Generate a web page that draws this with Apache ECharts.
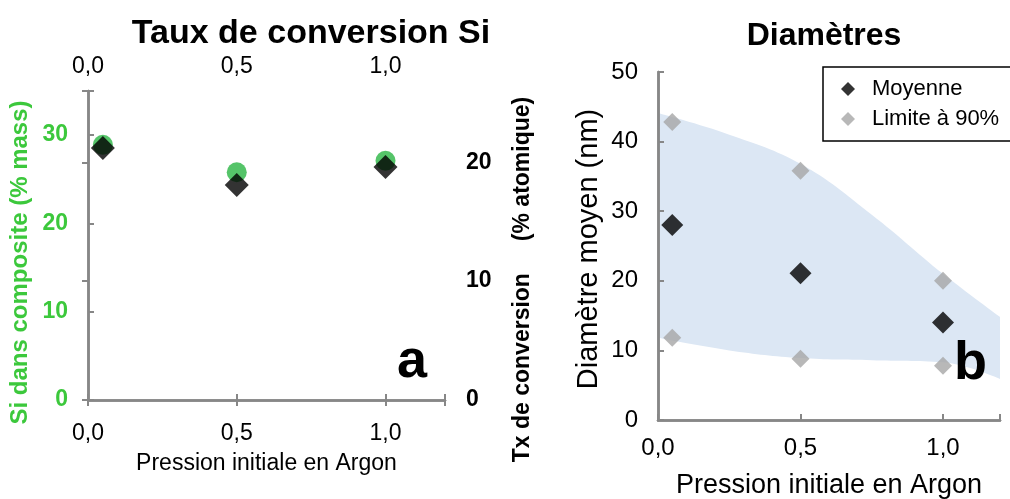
<!DOCTYPE html>
<html><head><meta charset="utf-8">
<script src="https://cdn.jsdelivr.net/npm/echarts@6/dist/echarts.min.js"></script>
<style>html,body{margin:0;padding:0;background:#fff}#c{width:1010px;height:499px}</style>
</head><body><div id="c"></div>
<script>
// ---- data ----
const pressure = [0.05, 0.5, 1.0];
const siMassPct = [28.9, 25.8, 27.1];          // left chart, left axis (green circles)
const conversionAtPct = [21.2, 18.1, 19.6];    // left chart, right axis (black diamonds)
const diamMean = [28.0, 21.1, 14.0];           // right chart, Moyenne
const diamUpper90 = [42.8, 35.8, 20.0];        // right chart, Limite à 90% (upper)
const diamLower90 = [11.8, 8.8, 7.8];          // right chart, Limite à 90% (lower)
const bandX = [0, 0.25, 0.5, 0.75, 1.0, 1.2];  // shaded band boundaries
const bandUpper = [44.1, 41.0, 36.8, 29.5, 21.0, 14.8];
const bandLower = [11.8, 10.0, 8.9, 8.6, 8.3, 5.9];
const xTickLabels = [0, 0.5, 1.0];
const leftYTicks = [0, 10, 20, 30];
const rightYTicks = [0, 10, 20];
const diamTicks = [0, 10, 20, 30, 40, 50];

const FONT = 'Liberation Sans, Arial, sans-serif';
const AXC = '#878787';
const GREEN_TXT = '#3cc83c';
const GREEN_PT = '#2bb544';
const GREY_PT = '#a6a6a6';
const BAND = '#dce7f4';

const onList = (list) => (v) => list.some(t => Math.abs(t - v) < 1e-6);
const fmtX = (v) => onList(xTickLabels)(v) ? v.toFixed(1).replace('.', ',') : '';
const fmtList = (list) => (v) => onList(list)(v) ? String(v) : '';

const lineAx = { show: true, lineStyle: { color: AXC, width: 2.5 } };
const tickIn = { show: true, inside: true, length: 6, lineStyle: { color: AXC, width: 2 } };

const zip = (xs, ys) => xs.map((x, i) => [x, ys[i]]);

const option = {
  animation: false,
  backgroundColor: '#fff',
  textStyle: { fontFamily: FONT },
  title: [
    { text: 'Taux de conversion Si', left: 306, top: 12, textAlign: 'center',
      textStyle: { fontFamily: FONT, fontSize: 34, fontWeight: 'bold', color: '#000' } },
    { text: 'Diamètres', left: 819, top: 15, textAlign: 'center',
      textStyle: { fontFamily: FONT, fontSize: 32, fontWeight: 'bold', color: '#000' } }
  ],
  legend: {
    data: ['Moyenne', 'Limite à 90%'],
    orient: 'vertical',
    left: 823, top: 67,
    padding: [9, 26, 9, 18],
    itemWidth: 14, itemHeight: 14, itemGap: 4,
    backgroundColor: '#fff', borderColor: '#000', borderWidth: 1.5, borderRadius: 0,
    textStyle: { fontFamily: FONT, fontSize: 22, color: '#000', lineHeight: 26, padding: [0, 0, 0, 12] }
  },
  grid: [
    { left: 88, top: 91, width: 357, height: 309, containLabel: false, outerBoundsMode: 'none' },
    { left: 658, top: 72, width: 342, height: 348, containLabel: false, outerBoundsMode: 'none' }
  ],
  xAxis: [
    { gridIndex: 0, type: 'value', min: 0, max: 1.2, interval: 0.5, position: 'bottom', z: 5,
      name: 'Pression initiale en Argon', nameLocation: 'middle', nameGap: 52,
      nameTextStyle: { fontFamily: FONT, fontSize: 23, color: '#000' },
      axisLine: lineAx, axisTick: tickIn, splitLine: { show: false },
      axisLabel: { formatter: fmtX, margin: 22, fontFamily: FONT, fontSize: 23, color: '#000' } },
    { gridIndex: 0, type: 'value', min: 0, max: 1.2, interval: 0.5, position: 'top', z: 5,
      axisLine: lineAx, axisTick: tickIn, splitLine: { show: false },
      axisLabel: { formatter: fmtX, margin: 13, fontFamily: FONT, fontSize: 23, color: '#000' } },
    { gridIndex: 1, type: 'value', min: 0, max: 1.2, interval: 0.5, position: 'bottom', z: 5,
      name: 'Pression initiale en Argon', nameLocation: 'middle', nameGap: 52,
      nameTextStyle: { fontFamily: FONT, fontSize: 27, color: '#000' },
      axisLine: lineAx, axisTick: tickIn, splitLine: { show: false },
      axisLabel: { formatter: fmtX, margin: 16, fontFamily: FONT, fontSize: 24, color: '#000' } },
    { gridIndex: 1, type: 'value', min: 0, max: 1.2, position: 'top', z: 5,
      axisLine: lineAx, axisTick: { show: false }, axisLabel: { show: false }, splitLine: { show: false } }
  ],
  yAxis: [
    { gridIndex: 0, type: 'value', min: 0, max: 35, interval: 10, position: 'left', z: 5,
      name: 'Si dans composite (% mass)', nameLocation: 'middle', nameGap: 56, nameRotate: 90,
      nameTextStyle: { fontFamily: FONT, fontSize: 24, fontWeight: 'bold', color: GREEN_TXT, padding: [0, 34, 0, 0] },
      axisLine: lineAx, axisTick: tickIn, splitLine: { show: false },
      axisLabel: { formatter: fmtList(leftYTicks), margin: 20, fontFamily: FONT, fontSize: 23, fontWeight: 'bold', color: GREEN_TXT } },
    { gridIndex: 0, type: 'value', min: 0, max: 26, interval: 10, position: 'right', z: 5,
      name: 'Tx de conversion     (% atomique)', nameLocation: 'middle', nameGap: 66, nameRotate: 90,
      nameTextStyle: { fontFamily: FONT, fontSize: 23, fontWeight: 'bold', color: '#000', padding: [0, 68, 0, 0] },
      axisLine: lineAx, axisTick: tickIn, splitLine: { show: false },
      axisLabel: { formatter: fmtList(rightYTicks), margin: 21, fontFamily: FONT, fontSize: 23, fontWeight: 'bold', color: '#000' } },
    { gridIndex: 1, type: 'value', min: 0, max: 50, interval: 10, position: 'left', z: 5,
      name: 'Diamètre moyen (nm)', nameLocation: 'middle', nameGap: 55, nameRotate: 90,
      nameTextStyle: { fontFamily: FONT, fontSize: 29, color: '#000', padding: [0, 6, 0, 0] },
      axisLine: lineAx, axisTick: tickIn, splitLine: { show: false },
      axisLabel: { formatter: fmtList(diamTicks), margin: 20, fontFamily: FONT, fontSize: 24, color: '#000' } },
    { gridIndex: 1, type: 'value', min: 0, max: 50, position: 'right', z: 5,
      axisLine: lineAx, axisTick: { show: false }, axisLabel: { show: false }, splitLine: { show: false } }
  ],
  series: [
    { name: 'Si % mass', type: 'scatter', xAxisIndex: 0, yAxisIndex: 0,
      symbol: 'circle', symbolSize: 20, itemStyle: { color: GREEN_PT }, z: 3,
      data: zip(pressure, siMassPct) },
    { name: 'Tx conversion', type: 'scatter', xAxisIndex: 0, yAxisIndex: 1,
      symbol: 'diamond', symbolSize: 24, itemStyle: { color: '#000' }, z: 4,
      data: zip(pressure, conversionAtPct) },
    { name: 'bandUpper', type: 'line', xAxisIndex: 2, yAxisIndex: 2,
      smooth: 0.4, symbol: 'none', lineStyle: { opacity: 0 }, silent: true, z: 1,
      areaStyle: { color: BAND, opacity: 1, origin: 'start' },
      data: zip(bandX, bandUpper) },
    { name: 'bandLower', type: 'line', xAxisIndex: 2, yAxisIndex: 2,
      smooth: 0.4, symbol: 'none', lineStyle: { opacity: 0 }, silent: true, z: 1,
      areaStyle: { color: '#ffffff', opacity: 1, origin: 'start' },
      data: zip(bandX, bandLower) },
    { name: 'Limite à 90%', type: 'scatter', xAxisIndex: 2, yAxisIndex: 2,
      symbol: 'diamond', symbolSize: 18, itemStyle: { color: GREY_PT }, z: 3,
      data: zip(pressure, diamUpper90).concat(zip(pressure, diamLower90)) },
    { name: 'Moyenne', type: 'scatter', xAxisIndex: 2, yAxisIndex: 2,
      symbol: 'diamond', symbolSize: 22, itemStyle: { color: '#000' }, z: 4,
      data: zip(pressure, diamMean) }
  ],
  graphic: [
    { type: 'text', left: 397, top: 335, z: 10,
      style: { text: 'a', fontFamily: FONT, fontSize: 54, fontWeight: 'bold', fill: '#000' } },
    { type: 'text', left: 954, top: 337, z: 10,
      style: { text: 'b', fontFamily: FONT, fontSize: 54, fontWeight: 'bold', fill: '#000' } }
  ]
};

const chart = echarts.init(document.getElementById('c'), null, { renderer: 'canvas' });
chart.setOption(option);
</script>
</body></html>
